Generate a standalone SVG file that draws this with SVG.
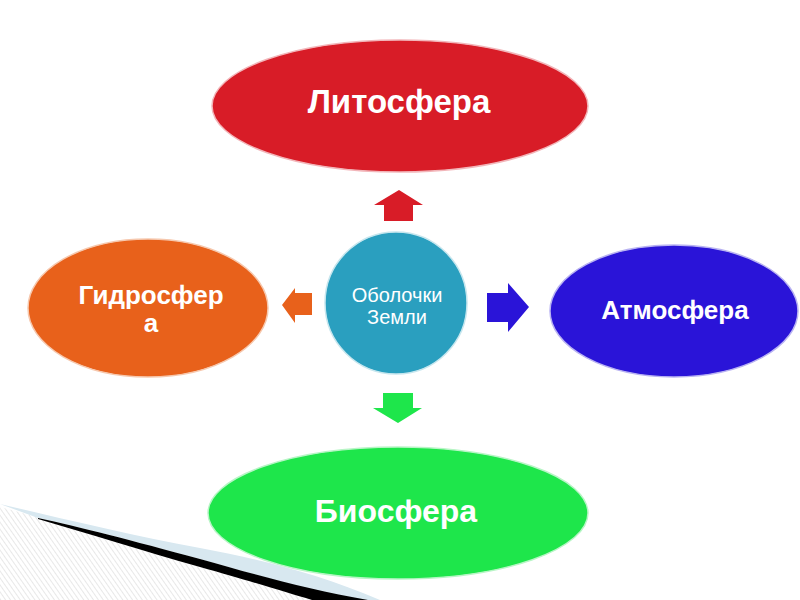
<svg xmlns="http://www.w3.org/2000/svg" width="800" height="600" viewBox="0 0 800 600">
<defs>
<pattern id="hatch" patternUnits="userSpaceOnUse" width="4" height="4" patternTransform="rotate(-35)">
<rect width="4" height="4" fill="#ffffff"/>
<line x1="0" y1="0" x2="0" y2="4" stroke="#dcdcdc" stroke-width="1.3"/>
</pattern>
<style>
.lbl{font-family:"Liberation Sans",Arial,sans-serif;font-weight:bold;fill:#ffffff;text-anchor:middle}
.ctr{font-family:"Liberation Sans",Arial,sans-serif;font-weight:normal;fill:#ffffff;text-anchor:middle;font-size:20px}
.node{stroke-width:1.5}
</style>
</defs>
<rect width="800" height="600" fill="#ffffff"/>

<g id="decor">
<path d="M0,507 C60,522 120,545 200,567 C250,581 285,592 312,600 L0,600 Z" fill="url(#hatch)"/>
<path d="M0,504 C60,518 130,535 200,548 C260,559 320,574 380,600 L360,600 C300,588 260,576 200,559 C130,540 80,527 38,518 Z" fill="#d8e8f0"/>
<path d="M38,518 C80,527 130,540 200,559 C260,576 310,590 368,600 L312,600 C285,592 250,581 200,567 C140,550 90,534 38,519 Z" fill="#000000"/>
</g>

<g id="n-litosfera">
<ellipse class="node" cx="400" cy="106" rx="188" ry="66" fill="#d81c27" stroke="#f2b6ba"/>
<text class="lbl" x="399" y="113" font-size="33">Литосфера</text>
</g>

<g id="n-atmosfera">
<ellipse class="node" cx="674" cy="311" rx="124" ry="66" fill="#2a14d8" stroke="#b9b3f2"/>
<text class="lbl" x="675" y="319" font-size="26">Атмосфера</text>
</g>

<g id="n-gidrosfera">
<ellipse class="node" cx="148" cy="308" rx="120" ry="69" fill="#e8611b" stroke="#f6c8ae"/>
<text class="lbl" x="151" y="304" font-size="26">Гидросфер</text>
<text class="lbl" x="151" y="332" font-size="26">а</text>
</g>

<g id="n-biosfera">
<ellipse class="node" cx="398" cy="513" rx="190" ry="66" fill="#1ee64b" stroke="#b8f5c6"/>
<text class="lbl" x="396" y="522" font-size="32">Биосфера</text>
</g>

<g id="n-center">
<circle cx="396" cy="303" r="71" fill="#2a9fbf" stroke="#c6e6ee" stroke-width="1.5"/>
<text class="ctr" x="397" y="302">Оболочки</text>
<text class="ctr" x="397" y="324">Земли</text>
</g>

<g id="connectors">
<polygon points="399,190 423,205 413,205 413,221 384,221 384,205 374,205" fill="#d81c27"/>
<polygon points="398,423 422,408 413,408 413,393 383,393 383,408 373,408" fill="#1ee64b"/>
<polygon points="282,305 295,288 295,293 312,293 312,315 295,315 295,323" fill="#e8611b"/>
<polygon points="529,307 508,283 508,293 487,293 487,322 508,322 508,332" fill="#2a14d8"/>
</g>
</svg>
